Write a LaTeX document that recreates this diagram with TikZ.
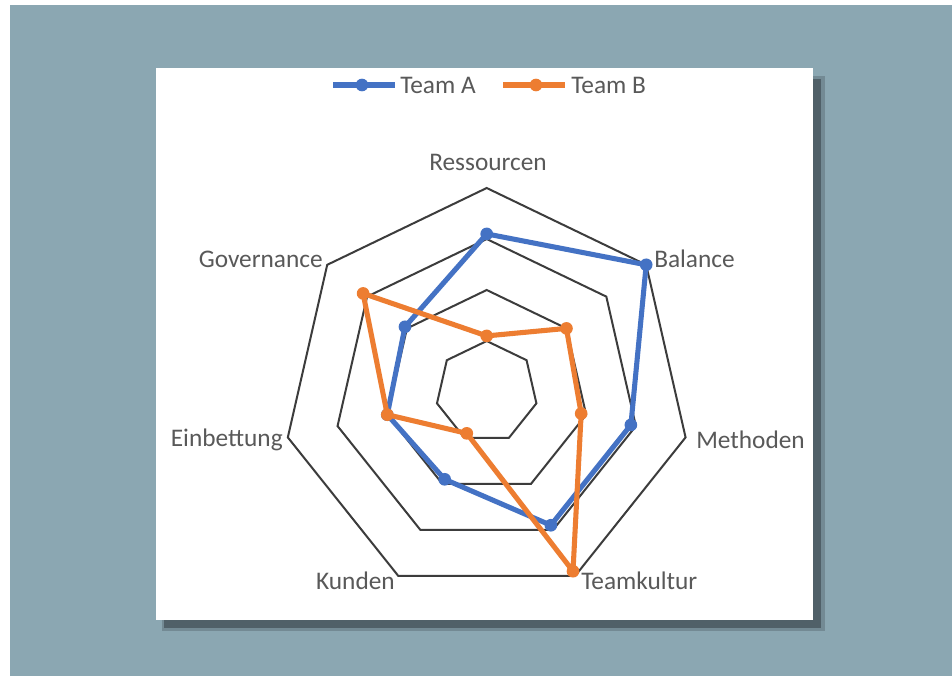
\documentclass[tikz,border=0pt]{standalone}
\usepackage{fontspec}
\setmainfont{Carlito}
\usetikzlibrary{positioning}
\usetikzlibrary{calc}
\definecolor{bg}{RGB}{139,167,178}
\definecolor{panelshadow}{RGB}{80,96,104}
\definecolor{teamA}{RGB}{68,114,196}
\definecolor{teamB}{RGB}{237,125,49}
\definecolor{grid}{RGB}{60,60,60}
\definecolor{txt}{RGB}{89,89,89}

\begin{document}
\begin{tikzpicture}[x=0.75pt,y=0.75pt]
	\tikzstyle{ring}=[draw=grid, line width=1.5pt, line join=miter]
	\tikzstyle{series}=[line width=3.8pt, line join=round, line cap=round]
	\tikzstyle{dot}=[circle, inner sep=0pt, minimum size=9.5pt]
	\tikzstyle{lbl}=[text=txt, inner sep=0pt, font=\fontsize{19}{22}\selectfont]
	
	\useasboundingbox (0,0) rectangle (952,676);
	\fill[white] (0,0) rectangle (952,676);
	\fill[bg] (10,0) rectangle (952,671);
	
	% shadow and panel
	\fill[panelshadow, opacity=0.4] (162,45) rectangle (825,600);
	\fill[panelshadow] (164,48) rectangle (821,597);
	\fill[white] (156,56) rectangle (813,608);
	
	% legend
	\coordinate (la0) at (333,591);
	\coordinate (la1) at (395,591);
	\draw[series, teamA, line cap=butt] (la0) -- (la1);
	\node[dot, fill=teamA] (ladot) at (362,591) {};
	\node[lbl, anchor=west] (lega) at (400,591) {Team A};
	\coordinate (lb0) at (503,591);
	\coordinate (lb1) at (565,591);
	\draw[series, teamB, line cap=butt] (lb0) -- (lb1);
	\node[dot, fill=teamB] (lbdot) at (536,591) {};
	\node[lbl, anchor=west] (legb) at (571,591) {Team B};
	
	\begin{scope}[shift={(486.7,284)}]
		% rings
		\foreach \r in {1,...,4}
			\draw[ring] (90:\r*51) \foreach \k in {1,...,6}{ -- ({90-\k*360/7}:\r*51)} -- cycle;
		
		% team A
		\foreach \v [count=\k from 0] in {3.1,4.0,2.9,2.9,1.9,2.0,2.05}
			\coordinate (a\k) at ({90-\k*360/7}:\v*51);
		\draw[series, teamA] (a0) -- (a1) -- (a2) -- (a3) -- (a4) -- (a5) -- (a6) -- cycle;
		\foreach \k in {0,...,6}
			\node[dot, fill=teamA] (adot\k) at (a\k) {};
		
		% team B
		\foreach \v [count=\k from 0] in {1.1,2.0,1.9,3.9,0.9,2.0,3.1}
			\coordinate (b\k) at ({90-\k*360/7}:\v*51);
		\draw[series, teamB] (b0) -- (b1) -- (b2) -- (b3) -- (b4) -- (b5) -- (b6) -- cycle;
		\foreach \k in {0,...,6}
			\node[dot, fill=teamB] (bdot\k) at (b\k) {};
	\end{scope}
	
	% axis labels
	\node[lbl] (ressourcen) at (488,514) {Ressourcen};
	\node[lbl, anchor=west] (balance) at (654,417) {Balance};
	\node[lbl, anchor=west] (methoden) at (696,236) {Methoden};
	\node[lbl, anchor=west] (teamkultur) at (581,95) {Teamkultur};
	\node[lbl, anchor=east] (kunden) at (395,95) {Kunden};
	\node[lbl, anchor=east] (einbettung) at (283,236) {Einbettung};
	\node[lbl, anchor=east] (governance) at (323,417) {Governance};
\end{tikzpicture}
\end{document}
